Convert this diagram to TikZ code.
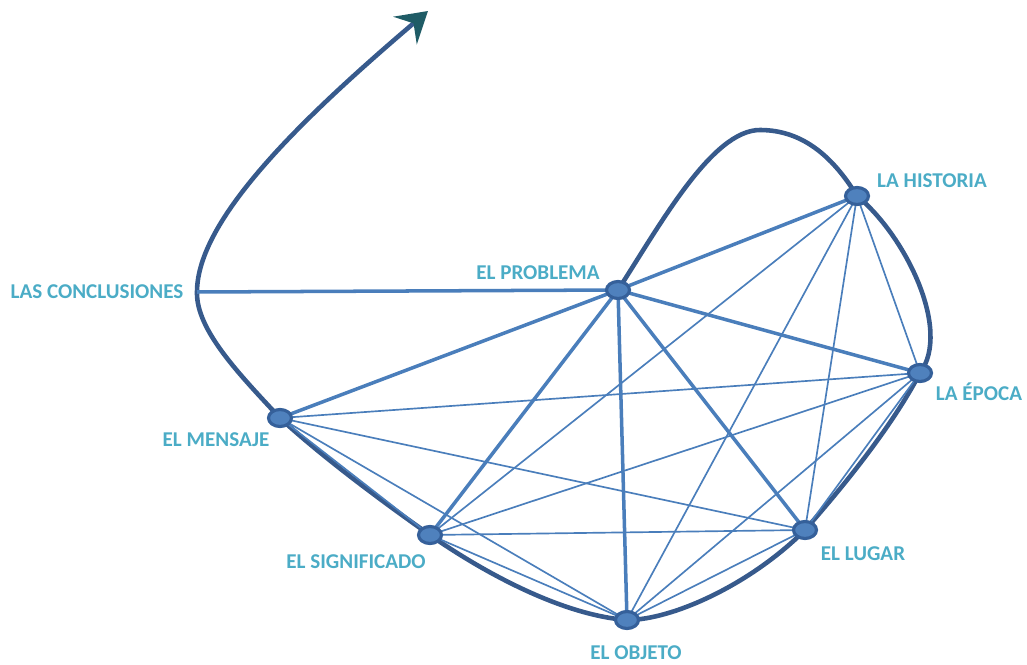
\documentclass[tikz,border=0pt]{standalone}
\usepackage{fontspec}
\setmainfont{Carlito}
\usetikzlibrary{arrows.meta,shapes.geometric,backgrounds}
\definecolor{lbl}{HTML}{4BACC6}
\definecolor{edgec}{HTML}{4A7EBB}
\definecolor{curvec}{HTML}{375A8C}
\definecolor{tipc}{HTML}{1F5C66}
\definecolor{dotfill}{HTML}{4F81BD}
\definecolor{dotline}{HTML}{35609A}
\begin{document}
\begin{tikzpicture}[x=0.02cm,y=-0.02cm,
  dot/.style={ellipse,minimum width=0.46cm,minimum height=0.34cm,inner sep=0pt,fill=dotfill,draw=dotline,line width=1.8pt},
  lab/.style={text=lbl,font=\bfseries\fontsize{12}{14}\selectfont,inner sep=0pt},
  heavy/.style={draw=edgec,line width=2pt},
  light/.style={draw=edgec,line width=0.95pt},
  loop/.style={draw=curvec,line width=2.6pt}]
\useasboundingbox (0,0) rectangle (1027,665);
% nodes
\node[dot] (P) at (618,290) {};
\node[dot] (H) at (857,196) {};
\node[dot] (E) at (920,373) {};
\node[dot] (L) at (805,530) {};
\node[dot] (O) at (627,620) {};
\node[dot] (S) at (430,535) {};
\node[dot] (M) at (280,418) {};
\coordinate (C) at (197,292);
\coordinate (A) at (428,11);
% labels
\node[lab] (lC) at (97,292) {LAS CONCLUSIONES};
\node[lab] (lP) at (538,273) {EL PROBLEMA};
\node[lab] (lH) at (932,181) {LA HISTORIA};
\node[lab] (lE) at (979,392) {LA ÉPOCA};
\node[lab] (lL) at (863,554) {EL LUGAR};
\node[lab] (lO) at (636,653) {EL OBJETO};
\node[lab] (lS) at (356,562) {EL SIGNIFICADO};
\node[lab] (lM) at (216,440) {EL MENSAJE};
\begin{pgfonlayer}{background}
% big curve
\draw[loop,-{Stealth[length=0.6cm,width=0.72cm,inset=0.22cm,color=tipc]}]
  (P.center) .. controls (660,225) and (712,130) .. (760,130)
  .. controls (805,130) and (835,160) .. (H.center)
  .. controls (905,235) and (952,330) .. (E.center)
  .. controls (890,430) and (840,490) .. (L.center)
  .. controls (750,585) and (672,620) .. (O.center)
  .. controls (560,615) and (480,570) .. (S.center)
  .. controls (380,500) and (320,455) .. (M.center)
  .. controls (240,375) and (196,330) .. (C)
  .. controls (197,220) and (300,120) .. (A);
% heavy edges from the problem
\draw[heavy] (C) -- (P.center);
\foreach \t in {H,E,L,O,S,M} \draw[heavy] (P.center) -- (\t.center);
% light edges
\foreach \a/\b in {H/E,H/L,H/O,H/S,E/M,E/S,E/O,E/L,M/L,M/O,M/S,S/L,S/O,O/L}
  \draw[light] (\a.center) -- (\b.center);
\end{pgfonlayer}
\end{tikzpicture}
\end{document}
